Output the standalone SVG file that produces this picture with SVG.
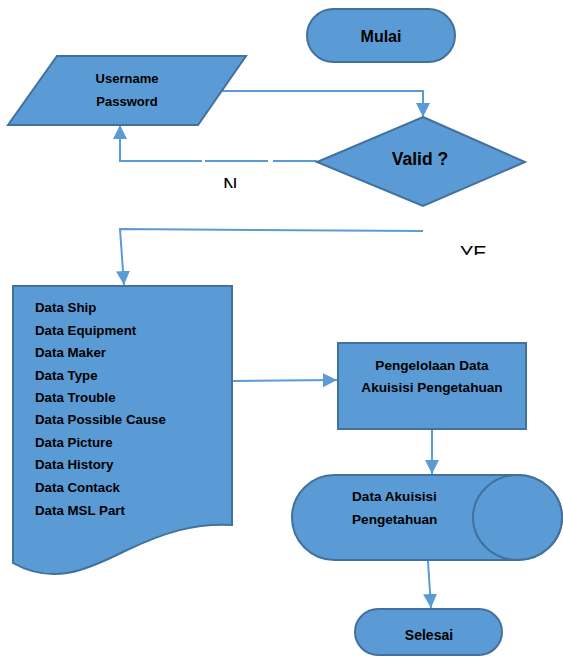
<svg xmlns="http://www.w3.org/2000/svg" width="563" height="657" viewBox="0 0 563 657">
<style>
.shape{fill:#5B9BD5;stroke:#41719C;stroke-width:2}
.conn{fill:none;stroke:#5B9BD5;stroke-width:2}
.t{font-family:"Liberation Sans",Arial,sans-serif;font-weight:bold;fill:#000}
.c{text-anchor:middle;dominant-baseline:central}
.lbl{font-family:"Liberation Sans",Arial,sans-serif;font-size:20px;fill:#000}
</style>
<defs>
<marker id="arr" markerUnits="userSpaceOnUse" markerWidth="16" markerHeight="16" refX="14" refY="7" orient="auto">
<path d="M0,0 L14,7 L0,14 Z" fill="#5B9BD5"/>
</marker>
<clipPath id="clipN"><rect x="210" y="170" width="40" height="18"/></clipPath>
<clipPath id="clipY"><rect x="450" y="238" width="50" height="17"/></clipPath>
</defs>
<g id="connectors">
<path class="conn" d="M222,91 H423 V117" marker-end="url(#arr)"/>
<path class="conn" d="M317,161 H273 M268,161 H205 M202,161 H120 V125" marker-end="url(#arr)"/>
<path class="conn" d="M423,231 L120,229 L124,285" marker-end="url(#arr)"/>
<path class="conn" d="M232,381 L337,380" marker-end="url(#arr)"/>
<path class="conn" d="M432,430 V474" marker-end="url(#arr)"/>
<path class="conn" d="M428,561 L431,608" marker-end="url(#arr)"/>
</g>
<g id="mulai">
<rect class="shape" x="307" y="9" width="148" height="53" rx="26.5"/>
<text class="t c" x="381" y="36" style="font-size:16px">Mulai</text>
</g>
<g id="input">
<polygon class="shape" points="57,56 246,56 198,125 8,125"/>
<text class="t c" x="127" y="78" style="font-size:13px">Username</text>
<text class="t c" x="127" y="101" style="font-size:13px">Password</text>
</g>
<g id="valid">
<polygon class="shape" points="423,117 525,162 423,206 317,162"/>
<text class="t c" x="420" y="159" style="font-size:17.5px">Valid ?</text>
</g>
<g id="label-n">
<text class="lbl" x="223" y="192" clip-path="url(#clipN)">N</text>
</g>
<g id="label-yes">
<text class="lbl" x="460" y="260" clip-path="url(#clipY)">YE</text>
</g>
<g id="data-doc">
<path class="shape" d="M13,286 H232 V525 C195,523 165,532 125,551 C85,571 52,585 13,563 Z"/>
<g class="t" style="font-size:13.3px">
<text x="35" y="312">Data Ship</text>
<text x="35" y="335">Data Equipment</text>
<text x="35" y="357">Data Maker</text>
<text x="35" y="380">Data Type</text>
<text x="35" y="402">Data Trouble</text>
<text x="35" y="424">Data Possible Cause</text>
<text x="35" y="447">Data Picture</text>
<text x="35" y="469">Data History</text>
<text x="35" y="492">Data Contack</text>
<text x="35" y="515">Data MSL Part</text>
</g>
</g>
<g id="process">
<rect class="shape" x="338" y="343" width="188" height="86"/>
<text class="t c" x="432" y="365" style="font-size:13.6px">Pengelolaan Data</text>
<text class="t c" x="432" y="387" style="font-size:13.6px">Akuisisi Pengetahuan</text>
</g>
<g id="storage">
<path class="shape" d="M334.5,475 H517.5 A44.5,42.5 0 0 1 517.5,560 H334.5 A42.5,42.5 0 0 1 334.5,475 Z"/>
<ellipse class="shape" cx="517.5" cy="517.5" rx="44.5" ry="42.5"/>
<text class="t" x="352" y="501" style="font-size:13.6px">Data Akuisisi</text>
<text class="t" x="352" y="524" style="font-size:13.6px">Pengetahuan</text>
</g>
<g id="selesai">
<rect class="shape" x="355" y="609" width="147" height="46" rx="23"/>
<text class="t c" x="429" y="635" style="font-size:14px">Selesai</text>
</g>
</svg>
